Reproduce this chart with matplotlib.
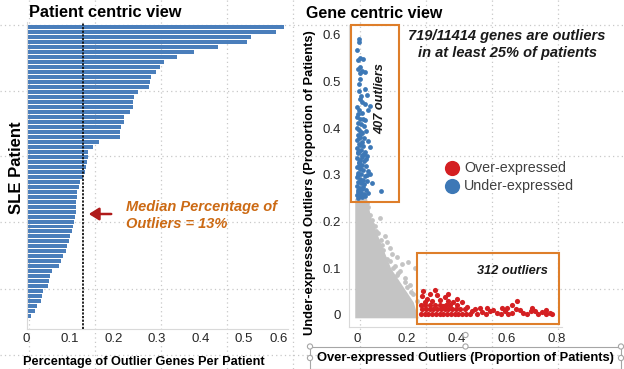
import matplotlib
matplotlib.use('Agg')
import matplotlib.pyplot as plt
import numpy as np
from matplotlib.patches import Rectangle, Circle, FancyArrowPatch

plt.rcParams['font.family'] = ['Liberation Sans', 'DejaVu Sans']

# ---------------- data ----------------
# Left panel: percentage of outlier genes per SLE patient (sorted, top to bottom)
patient_pct = [0.592, 0.574, 0.515, 0.508, 0.440, 0.385, 0.345, 0.316, 0.308, 0.298,
               0.286, 0.284, 0.282, 0.256, 0.248, 0.245, 0.245, 0.238, 0.225, 0.224,
               0.217, 0.215, 0.215, 0.167, 0.152, 0.142, 0.141, 0.139, 0.137, 0.134,
               0.131, 0.123, 0.121, 0.117, 0.115, 0.114, 0.113, 0.113, 0.112, 0.109,
               0.108, 0.104, 0.101, 0.098, 0.094, 0.090, 0.083, 0.079, 0.075, 0.058,
               0.054, 0.052, 0.049, 0.037, 0.035, 0.034, 0.023, 0.020, 0.010]
median_pct = 0.13
left_xticks = [0, 0.1, 0.2, 0.3, 0.4, 0.5, 0.6]
left_xticklabels = ['0', '0.1', '0.2', '0.3', '0.4', '0.5', '0.6']

# Right panel: dense grey cloud outline (non-outlier genes)
grey_y = [-0.006, 0.0, 0.028, 0.064, 0.100, 0.136, 0.171, 0.207, 0.250]
grey_xedge = [0.245, 0.240, 0.225, 0.180, 0.135, 0.108, 0.082, 0.056, 0.038]
# sparse grey points
grey_x = [0.045, 0.092, 0.032, 0.059, 0.121, 0.132, 0.159, 0.205, 0.232, 0.110,
          0.070, 0.085, 0.140, 0.170, 0.190, 0.210, 0.225, 0.240, 0.100, 0.180,
          0.150, 0.118, 0.075, 0.095, 0.060, 0.130, 0.160, 0.200, 0.215, 0.050,
          0.040, 0.025, 0.105, 0.145, 0.190, 0.165]
grey_yv = [0.232, 0.207, 0.218, 0.203, 0.157, 0.143, 0.125, 0.114, 0.100, 0.170,
           0.190, 0.175, 0.130, 0.095, 0.080, 0.065, 0.045, 0.030, 0.150, 0.110,
           0.105, 0.120, 0.180, 0.160, 0.195, 0.115, 0.085, 0.060, 0.050, 0.214,
           0.240, 0.245, 0.140, 0.100, 0.070, 0.090]

# Under-expressed outliers (blue)
under_x = [0.009, 0.009, 0.000, 0.012, 0.004, 0.013, 0.003, 0.012, 0.020, 0.009,
           0.030, 0.024, 0.039, 0.019, 0.052, 0.010, 0.030, 0.000, 0.042, 0.008,
           0.020, 0.000, 0.012, 0.030, 0.004, 0.017, 0.026, 0.000, 0.009, 0.035,
           0.020, 0.003, 0.012, 0.028, 0.000, 0.018, 0.045, 0.008, 0.025, 0.052,
           0.000, 0.014, 0.032, 0.005, 0.020, 0.040, 0.000, 0.012, 0.027, 0.006,
           0.018, 0.035, 0.000, 0.010, 0.024, 0.045, 0.004, 0.016, 0.052, 0.030,
           0.000, 0.010, 0.022, 0.038, 0.005, 0.015, 0.028, 0.060, 0.000, 0.010,
           0.020, 0.034, 0.095, 0.004, 0.014, 0.026, 0.045, 0.000, 0.009, 0.018,
           0.030, 0.004, 0.013, 0.024, 0.040, 0.006, 0.016, 0.026, 0.035, 0.008,
           0.002, 0.022, 0.014, 0.006, 0.030, 0.010,
           0.005, 0.015, 0.002, 0.012, 0.007, 0.018, 0.003, 0.010, 0.006, 0.014]
under_y = [0.592, 0.585, 0.567, 0.550, 0.545, 0.532, 0.527, 0.518, 0.522, 0.495,
           0.520, 0.548, 0.471, 0.457, 0.448, 0.462, 0.452, 0.445, 0.440, 0.438,
           0.432, 0.425, 0.420, 0.418, 0.412, 0.408, 0.404, 0.400, 0.396, 0.395,
           0.390, 0.386, 0.381, 0.378, 0.374, 0.370, 0.372, 0.366, 0.362, 0.360,
           0.358, 0.354, 0.350, 0.346, 0.342, 0.340, 0.336, 0.332, 0.330, 0.326,
           0.322, 0.320, 0.316, 0.312, 0.310, 0.308, 0.305, 0.302, 0.303, 0.298,
           0.295, 0.292, 0.290, 0.288, 0.285, 0.282, 0.280, 0.282, 0.276, 0.273,
           0.270, 0.268, 0.266, 0.264, 0.261, 0.259, 0.262, 0.256, 0.254, 0.252,
           0.255, 0.250, 0.262, 0.275, 0.300, 0.352, 0.390, 0.345, 0.333, 0.318,
           0.430, 0.420, 0.470, 0.480, 0.485, 0.505,
           0.268, 0.284, 0.300, 0.314, 0.328, 0.338, 0.348, 0.364, 0.378, 0.392]

# Over-expressed outliers (red)
over_x = [0.255, 0.270, 0.285, 0.300, 0.315, 0.330, 0.345, 0.360, 0.375, 0.390,
          0.405, 0.420, 0.435, 0.450,
          0.260, 0.275, 0.290, 0.305, 0.320, 0.335, 0.350, 0.365, 0.380, 0.395,
          0.410, 0.430,
          0.255, 0.270, 0.290, 0.310, 0.330, 0.355, 0.370, 0.400,
          0.265, 0.312, 0.363, 0.419, 0.639, 0.619, 0.779, 0.280, 0.300, 0.260,
          0.330, 0.345, 0.385, 0.440, 0.470, 0.500, 0.530, 0.560, 0.590, 0.620,
          0.650, 0.680, 0.710, 0.740, 0.770, 0.480, 0.515, 0.545, 0.575, 0.605,
          0.635, 0.665, 0.695, 0.725, 0.755, 0.460, 0.490, 0.520, 0.580, 0.700,
          0.600, 0.755, 0.365, 0.350, 0.270, 0.320, 0.400, 0.290]
over_y = [0.002, 0.002, 0.002, 0.002, 0.002, 0.002, 0.002, 0.002, 0.002, 0.002,
          0.002, 0.002, 0.002, 0.002,
          0.012, 0.012, 0.012, 0.012, 0.012, 0.012, 0.012, 0.012, 0.012, 0.012,
          0.012, 0.012,
          0.022, 0.022, 0.022, 0.022, 0.022, 0.022, 0.022, 0.022,
          0.051, 0.054, 0.046, 0.027, 0.030, 0.021, 0.002, 0.035, 0.030, 0.040,
          0.033, 0.020, 0.028, 0.018, 0.012, 0.006, 0.008, 0.004, 0.009, 0.005,
          0.010, 0.003, 0.008, 0.006, 0.004, 0.003, 0.002, 0.010, 0.002, 0.003,
          0.012, 0.004, 0.009, 0.002, 0.011, 0.008, 0.014, 0.015, 0.014, 0.014,
          0.016, 0.003, 0.030, 0.038, 0.028, 0.042, 0.035, 0.045]

right_xticks = [0, 0.2, 0.4, 0.6, 0.8]
right_xticklabels = ['0', '0.2', '0.4', '0.6', '0.8']
right_yticks = [0, 0.1, 0.2, 0.3, 0.4, 0.5, 0.6]
right_yticklabels = ['0', '0.1', '0.2', '0.3', '0.4', '0.5', '0.6']

# ---------------- figure ----------------
W, H = 624, 369
fig = plt.figure(figsize=(W / 100, H / 100), dpi=100)
fx = lambda px: px / W
fy = lambda py: 1 - py / H

BLUE_BAR = '#4A7EBB'
BLUE = '#3D78B6'
RED = '#D41F22'
GREY = '#C4C4C4'
ORANGE = '#DE7E2A'
TXT = '#262626'

# background dotted grid (slide grid)
bg = fig.add_axes([0, 0, 1, 1], zorder=-5)
bg.set_xlim(0, W)
bg.set_ylim(H, 0)
bg.axis('off')
for gx in [28.5, 94.7, 160.9, 227.1, 293.3, 359.5, 425.7, 491.9, 558.1]:
    bg.plot([gx, gx], [0, H], color='#C8C8C8', lw=0.9, ls=(0, (1, 2.5)))
for gy in [25, 90.5, 156, 222, 289, 355]:
    bg.plot([0, W], [gy, gy], color='#C8C8C8', lw=0.9, ls=(0, (1, 2.5)))

# ---------------- left panel ----------------
ax1 = fig.add_axes([fx(26.5), fy(329), 261 / W, 307 / H])
ax1.patch.set_alpha(0)
n = len(patient_pct)
ypos = np.arange(n)[::-1]
ax1.barh(ypos, patient_pct, height=0.8, color=BLUE_BAR, lw=0, zorder=2)
ax1.axvline(median_pct, color='#111111', lw=1.3, ls=(0, (1.2, 0.8)), zorder=3)
ax1.set_xlim(0, 0.6)
ax1.set_ylim(-2.6, n - 1 + 1.1)
ax1.set_xticks(left_xticks)
ax1.set_xticklabels(left_xticklabels)
ax1.get_xticklabels()[-1].set_horizontalalignment('right')
ax1.set_yticks([])
ax1.tick_params(axis='x', length=0, labelsize=9.5, colors=TXT, pad=3)
for s in ['top', 'right']:
    ax1.spines[s].set_visible(False)
for s in ['left', 'bottom']:
    ax1.spines[s].set_color('#D9D9D9')
    ax1.spines[s].set_linewidth(0.8)

fig.text(fx(29), fy(17), 'Patient centric view', fontsize=11.8, fontweight='bold',
         color='black', ha='left', va='baseline')
fig.text(fx(16.5), fy(168), 'SLE Patient', fontsize=12, fontweight='bold',
         rotation=90, ha='center', va='center', color='black')
fig.text(fx(143.5), fy(362), 'Percentage of Outlier Genes Per Patient', fontsize=9.2,
         fontweight='bold', ha='center', va='center', color='black')
fig.text(fx(126), fy(207.5), 'Median Percentage of', fontsize=10.5, fontweight='bold',
         fontstyle='italic', color='#CC6A14', ha='left', va='center')
fig.text(fx(126), fy(224.5), 'Outliers = 13%', fontsize=10.5, fontweight='bold',
         fontstyle='italic', color='#CC6A14', ha='left', va='center')
arr = FancyArrowPatch((fx(114), fy(214)), (fx(86), fy(214)), transform=fig.transFigure,
                      arrowstyle='-|>,head_length=4,head_width=2.5', color='#B01A1A',
                      lw=1.8, mutation_scale=1.5)
fig.add_artist(arr)

# ---------------- right panel ----------------
ax2 = fig.add_axes([fx(349), fy(327), 213 / W, 302 / H])
ax2.patch.set_alpha(0)
ax2.set_xlim(-0.032, 0.82)
ax2.set_ylim(-0.0257, 0.621)
ax2.fill_betweenx(grey_y, -0.009, grey_xedge, color=GREY, lw=0, zorder=1)
ax2.scatter(grey_x, grey_yv, s=12, color=GREY, lw=0, zorder=1)
ax2.scatter(under_x, under_y, s=12, color=BLUE, lw=0, zorder=3)
ax2.scatter(over_x, over_y, s=14, color=RED, lw=0, zorder=3)
ax2.set_xticks(right_xticks)
ax2.set_xticklabels(right_xticklabels)
ax2.set_yticks(right_yticks)
ax2.set_yticklabels(right_yticklabels)
ax2.tick_params(length=0, labelsize=9.5, colors=TXT)
ax2.tick_params(axis='y', pad=6)
ax2.tick_params(axis='x', pad=4)
for s in ['top', 'right']:
    ax2.spines[s].set_visible(False)
for s in ['left', 'bottom']:
    ax2.spines[s].set_color('#D9D9D9')
    ax2.spines[s].set_linewidth(0.8)

# outlier boxes
ax2.add_patch(Rectangle((-0.025, 0.243), 0.193, 0.378, fill=False, ec=ORANGE, lw=1.5,
                        zorder=4, clip_on=False))
ax2.add_patch(Rectangle((0.240, -0.019), 0.568, 0.152, fill=False, ec=ORANGE, lw=1.5,
                        zorder=4, clip_on=False))

fig.text(fx(306.5), fy(18.5), 'Gene centric view', fontsize=11.5, fontweight='bold',
         color='black', ha='left', va='baseline')
fig.text(fx(507), fy(36), '719/11414 genes are outliers', fontsize=10.5,
         fontweight='bold', fontstyle='italic', ha='center', va='center', color='#1a1a1a')
fig.text(fx(508), fy(52.5), 'in at least 25% of patients', fontsize=10.5,
         fontweight='bold', fontstyle='italic', ha='center', va='center', color='#1a1a1a')
fig.text(fx(380), fy(99), '407 outliers', fontsize=9.2, fontweight='bold',
         fontstyle='italic', rotation=90, ha='center', va='center', color='#1a1a1a')
fig.text(fx(512), fy(271), '312 outliers', fontsize=9.2, fontweight='bold',
         fontstyle='italic', ha='center', va='center', color='#1a1a1a')
fig.text(fx(310), fy(183), 'Under-expressed Outliers (Proportion of Patients)',
         fontsize=9.3, fontweight='bold', rotation=90, ha='center', va='center',
         color='black')
fig.text(fx(465), fy(358), 'Over-expressed Outliers (Proportion of Patients)',
         fontsize=9.3, fontweight='bold', ha='center', va='center', color='black')

# legend
leg = fig.add_axes([0, 0, 1, 1], zorder=6)
leg.set_xlim(0, W)
leg.set_ylim(H, 0)
leg.axis('off')
leg.scatter([452], [168], s=120, color=RED, lw=0)
leg.scatter([452], [186], s=120, color=BLUE, lw=0)
leg.text(464, 168, 'Over-expressed', fontsize=10.3, color='#404040', va='center', ha='left')
leg.text(464, 186, 'Under-expressed', fontsize=10.3, color='#404040', va='center', ha='left')

# selected text-box frame around x label
leg.add_patch(Rectangle((310, 346.5), 311, 22, fill=False, ec='#A6A6A6', lw=0.8))
for (cx, cy) in [(310, 346.5), (465.5, 346.5), (621, 346.5), (310, 358), (621, 358),
                 (465.5, 335)]:
    leg.add_patch(Circle((cx, cy), 2.6, fc='white', ec='#A6A6A6', lw=0.8))

fig.savefig('out.png', dpi=100)
